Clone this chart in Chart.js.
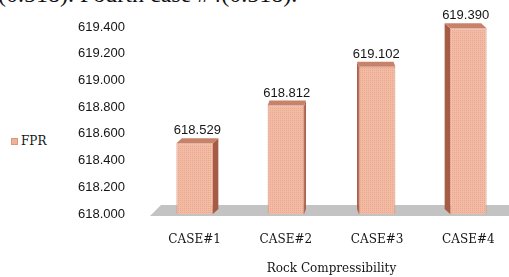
<!DOCTYPE html>
<html>
<head>
<meta charset="utf-8">
<script src="https://cdn.jsdelivr.net/npm/chart.js@4"></script>
<style>
    html, body { margin: 0; padding: 0; background: #fff; overflow: hidden; }
    body { width: 509px; height: 277px; position: relative; }
    .doc-line {
        position: absolute; left: -2px; top: -18px;
        font: 24px/24px "Liberation Serif", serif; color: #111; white-space: nowrap;
    }
    .legend {
        position: absolute; left: 11px; top: 134px;
        font: 12px "DejaVu Serif", serif; color: #151515;
        display: flex; align-items: center;
    }
    .legend i {
        display: inline-block; width: 7px; height: 7px; margin-right: 3px;
        background: #eeb29b; border: 1px solid #d99880; box-sizing: border-box;
    }
    #wrap { position: absolute; left: 0; top: 0; width: 514px; height: 277px; }
</style>
</head>
<body>
<div class="doc-line">(0.518). Fourth case #4(0.518).</div>
<div class="legend"><i></i>FPR</div>
<div id="wrap"><canvas id="chart" width="514" height="277"></canvas></div>
<script>
document.addEventListener('DOMContentLoaded', () => {
    /* =====================
       DADOS
    ===================== */
    const categories = ['CASE#1', 'CASE#2', 'CASE#3', 'CASE#4'];
    const fprValues = [618.529, 618.812, 619.102, 619.390];
    const yMin = 618.0;
    const yMax = 619.4;
    const yStep = 0.2;
    const seriesName = 'FPR';
    const axisTitle = 'Rock Compressibility';

    /* =====================
       TEXTURA DAS BARRAS
    ===================== */
    const makePattern = () => {
        const c = document.createElement('canvas');
        c.width = 2;
        c.height = 2;
        const g = c.getContext('2d');
        g.fillStyle = '#f3bba3';
        g.fillRect(0, 0, 2, 2);
        g.fillStyle = '#e9a88f';
        g.fillRect(0, 0, 1, 1);
        return g.createPattern(c, 'repeat');
    };

    /* =====================
       EFEITO 3D
    ===================== */
    const depth = 5;
    const sideShift = (x, area) => ((area.left + area.right) / 2 - x) * 0.04;

    const threeD = {
        id: 'threeD',
        beforeDatasetsDraw(chart) {
            const { ctx, chartArea: a, width } = chart;
            ctx.save();
            // piso
            ctx.fillStyle = '#c3c3c3';
            ctx.beginPath();
            ctx.moveTo(a.left + 1, a.bottom + 2);
            ctx.lineTo(a.left + 12, a.bottom - 9);
            ctx.lineTo(width, a.bottom - 9);
            ctx.lineTo(width, a.bottom + 2);
            ctx.closePath();
            ctx.fill();

            chart.getDatasetMeta(0).data.forEach((bar) => {
                const half = bar.width / 2;
                const x1 = bar.x - half;
                const x2 = bar.x + half;
                const top = bar.y;
                const bottom = Math.min(bar.base, a.bottom);
                const dx = sideShift(bar.x, a);
                // lateral
                ctx.fillStyle = '#a65b45';
                ctx.beginPath();
                const edge = dx > 0 ? x2 : x1;
                ctx.moveTo(edge, top);
                ctx.lineTo(edge + dx, top - depth);
                ctx.lineTo(edge + dx, bottom - depth);
                ctx.lineTo(edge, bottom);
                ctx.closePath();
                ctx.fill();
                // topo
                ctx.fillStyle = '#c9826a';
                ctx.beginPath();
                ctx.moveTo(x1, top);
                ctx.lineTo(x1 + dx, top - depth);
                ctx.lineTo(x2 + dx, top - depth);
                ctx.lineTo(x2, top);
                ctx.closePath();
                ctx.fill();
            });
            ctx.restore();
        },
        afterDatasetsDraw(chart) {
            const { ctx, chartArea: a } = chart;
            ctx.save();
            ctx.font = '13px "Liberation Sans", Arial, sans-serif';
            ctx.fillStyle = '#151515';
            ctx.textAlign = 'center';
            ctx.textBaseline = 'bottom';
            chart.getDatasetMeta(0).data.forEach((bar, i) => {
                const dx = sideShift(bar.x, a);
                ctx.fillText(fprValues[i].toFixed(3), bar.x + dx / 2, bar.y - depth - 1);
            });
            ctx.restore();
        },
    };

    /* =====================
       GRAFICO
    ===================== */
    const canvas = document.getElementById('chart');
    new Chart(canvas, {
        type: 'bar',
        data: {
            labels: categories,
            datasets: [
                {
                    label: seriesName,
                    data: fprValues,
                    backgroundColor: makePattern(),
                    borderColor: '#d8957c',
                    borderWidth: 1,
                    barPercentage: 0.4,
                    categoryPercentage: 1,
                },
            ],
        },
        options: {
            responsive: false,
            animation: false,
            layout: { padding: { top: 27, left: 0, right: 0, bottom: 0 } },
            plugins: {
                legend: { display: false },
                tooltip: { enabled: false },
            },
            scales: {
                x: {
                    grid: { display: false },
                    border: { display: false },
                    ticks: {
                        padding: 11,
                        color: '#151515',
                        font: { family: '"DejaVu Serif", serif', size: 12 },
                    },
                    title: {
                        display: true,
                        text: axisTitle,
                        color: '#151515',
                        padding: { top: 0, bottom: 1 },
                        font: { family: '"DejaVu Serif", serif', size: 12 },
                    },
                    afterFit: (scale) => { scale.height = 63; },
                },
                y: {
                    min: yMin,
                    max: yMax,
                    grid: { display: false },
                    border: { display: false },
                    ticks: {
                        stepSize: yStep,
                        padding: 16,
                        color: '#151515',
                        font: { family: '"Liberation Sans", Arial, sans-serif', size: 13 },
                        callback: (v) => Number(v).toFixed(3),
                    },
                    afterFit: (scale) => { scale.width = 149; },
                },
            },
        },
        plugins: [threeD],
    });
});
</script>
</body>
</html>
